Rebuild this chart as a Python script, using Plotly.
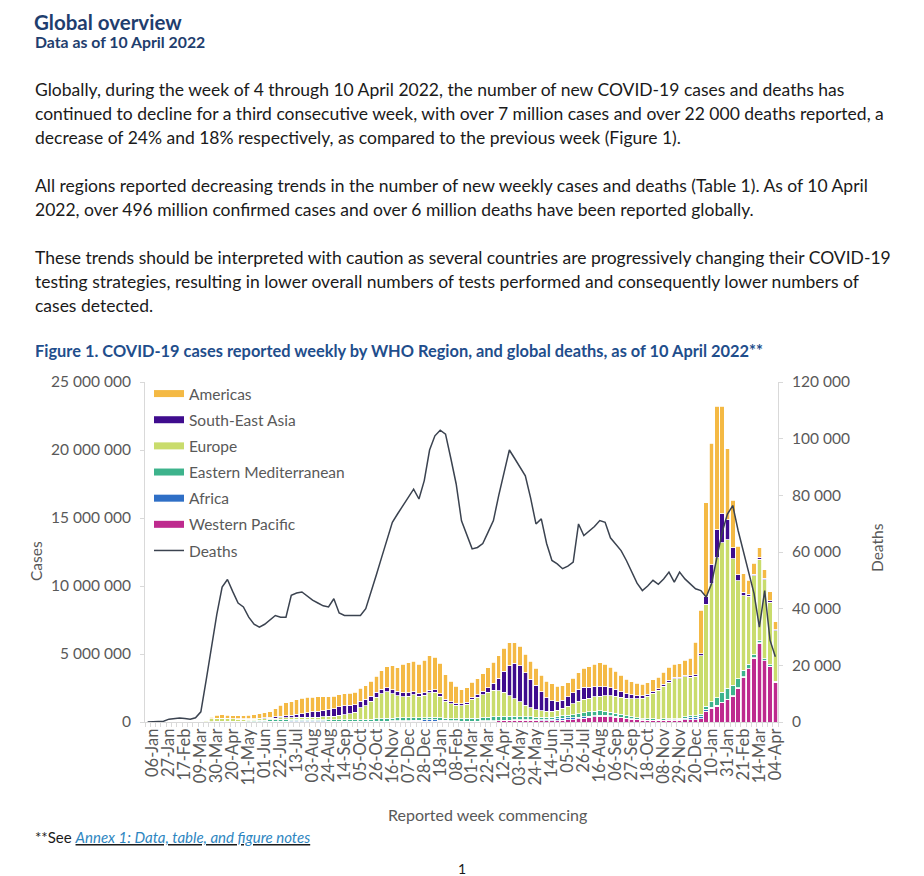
import plotly.graph_objects as go

# ---------------- DATA (weekly cases, thousands; first week = 30-Dec-2019) ----------------
TICK_LABELS = ["06-Jan", "27-Jan", "17-Feb", "09-Mar", "30-Mar", "20-Apr", "11-May", "01-Jun",
               "22-Jun", "13-Jul", "03-Aug", "24-Aug", "14-Sep", "05-Oct", "26-Oct", "16-Nov",
               "07-Dec", "28-Dec", "18-Jan", "08-Feb", "01-Mar", "22-Mar", "12-Apr", "03-May",
               "24-May", "14-Jun", "05-Jul", "26-Jul", "16-Aug", "06-Sep", "27-Sep", "18-Oct",
               "08-Nov", "29-Nov", "20-Dec", "10-Jan", "31-Jan", "21-Feb", "14-Mar", "04-Apr"]

western_pacific = [
    0,
    0, 0, 1.5, 14, 25, 30, 6, 3, 2.5, 3,
    5, 7, 9, 10, 8, 5, 3, 3, 3, 4,
    4, 5, 6, 7, 9, 11, 13, 17, 20, 25,
    28, 30, 28, 25, 22, 22, 22, 20, 18, 18,
    20, 22, 23, 25, 30, 40, 45, 48, 50, 55,
    55, 55, 65, 68, 60, 50, 45, 40, 35, 38,
    40, 42, 48, 55, 65, 80, 90, 110, 120, 125,
    135, 140, 130, 110, 100, 100, 110, 130, 150, 180,
    240, 290, 340, 380, 410, 420, 400, 360, 310, 260,
    210, 170, 130, 120, 120, 120, 130, 140, 140, 140,
    150, 150, 160, 250, 800, 1000, 1150, 1400, 1650, 1900,
    2500, 3300, 3900, 4700, 5800, 4500, 4100, 2900]

africa = [
    0,
    0, 0, 0, 0, 0, 0, 0, 0, 0.1, 0.5,
    1, 2.5, 4, 5, 6, 7, 9, 11, 14, 18,
    22, 26, 32, 40, 50, 62, 72, 80, 85, 80,
    70, 60, 50, 40, 35, 30, 26, 25, 25, 25,
    26, 28, 30, 32, 35, 38, 42, 48, 60, 75,
    90, 100, 110, 105, 85, 65, 50, 40, 35, 32,
    30, 30, 30, 30, 30, 30, 30, 30, 28, 28,
    30, 35, 40, 50, 65, 85, 115, 140, 150, 135,
    115, 100, 90, 85, 80, 75, 65, 50, 40, 30,
    25, 20, 18, 16, 15, 14, 14, 15, 20, 60,
    140, 200, 200, 170, 140, 100, 75, 55, 40, 32,
    25, 20, 17, 15, 13, 12, 10, 9]

eastern_mediterranean = [
    0,
    0, 0, 0, 0, 0, 0, 0.1, 0.5, 3, 8,
    15, 20, 25, 30, 35, 40, 45, 55, 65, 80,
    95, 110, 125, 130, 130, 125, 120, 115, 105, 95,
    90, 90, 95, 100, 105, 110, 115, 120, 130, 140,
    150, 160, 170, 185, 200, 210, 210, 200, 185, 170,
    160, 160, 165, 160, 150, 145, 150, 160, 175, 190,
    200, 210, 230, 250, 275, 300, 310, 300, 280, 250,
    215, 195, 190, 190, 180, 170, 170, 180, 200, 230,
    270, 300, 320, 330, 320, 300, 270, 240, 210, 170,
    140, 120, 105, 95, 90, 85, 85, 85, 85, 85,
    90, 95, 105, 140, 230, 380, 560, 720, 800, 780,
    650, 470, 320, 230, 170, 130, 110, 90]

europe = [
    0,
    0, 0, 0, 0, 0.1, 0.1, 0.2, 1.5, 12, 45,
    120, 200, 250, 240, 220, 190, 160, 130, 115, 110,
    105, 100, 105, 115, 120, 120, 125, 130, 140, 150,
    160, 180, 210, 240, 270, 320, 380, 450, 550, 850,
    1000, 1300, 1600, 1850, 1950, 1800, 1650, 1550, 1600, 1700,
    1600, 1650, 1800, 1850, 1600, 1250, 1100, 1000, 950, 1050,
    1400, 1550, 1700, 1850, 1950, 1900, 1750, 1500, 1300, 1100,
    850, 680, 550, 480, 450, 450, 480, 560, 650, 780,
    900, 1000, 1000, 1050, 1100, 1150, 1200, 1250, 1250, 1300,
    1350, 1400, 1500, 1650, 1900, 2100, 2400, 2700, 2950, 2900,
    2950, 2850, 2900, 4300, 7500, 8700, 10300, 11000, 10900, 9300,
    7200, 5500, 5000, 5800, 6000, 5800, 4600, 3700]

south_east_asia = [
    0,
    0, 0, 0, 0, 0, 0, 0, 0, 0.1, 0.2,
    0.5, 1, 3, 6, 8, 11, 14, 22, 30, 40,
    50, 65, 80, 95, 115, 140, 170, 210, 260, 320,
    390, 430, 460, 510, 560, 630, 650, 610, 560, 510,
    460, 400, 350, 320, 300, 290, 300, 290, 260, 230,
    200, 190, 190, 180, 170, 160, 150, 140, 145, 150,
    160, 190, 250, 350, 530, 900, 1550, 2200, 2600, 2650,
    2400, 2100, 1800, 1400, 1000, 750, 600, 600, 720, 830,
    900, 870, 820, 760, 700, 650, 600, 520, 420, 330,
    270, 230, 190, 170, 150, 140, 130, 120, 110, 110,
    105, 100, 100, 150, 550, 1400, 2050, 2150, 1500, 800,
    450, 250, 170, 130, 120, 110, 90, 70]

americas = [
    0,
    0, 0, 0, 0, 0, 0, 0, 0, 0.3, 3,
    30, 110, 220, 230, 220, 210, 220, 230, 260, 290,
    330, 360, 420, 600, 800, 950, 1000, 1080, 1150, 1150,
    1100, 1080, 1000, 950, 900, 880, 880, 900, 900, 950,
    1000, 1100, 1200, 1350, 1550, 1750, 1750, 2100, 2200, 2250,
    2150, 2400, 2550, 2400, 2250, 1800, 1500, 1250, 1050, 1050,
    1100, 1150, 1300, 1450, 1550, 1650, 1700, 1700, 1500, 1400,
    1350, 1300, 1250, 1200, 1200, 1250, 1150, 1050, 1000, 1050,
    1200, 1400, 1500, 1650, 1750, 1650, 1500, 1300, 1200, 1050,
    950, 900, 850, 850, 850, 850, 900, 950, 950, 1000,
    1100, 1300, 2400, 3200, 6900, 8900, 9100, 7900, 5200, 3500,
    2100, 1350, 1000, 800, 700, 650, 650, 600]

# weekly global deaths, thousands
deaths = [
    0,
    0.1, 0.2, 0.3, 1.0, 1.3, 1.4, 1.2, 1.0, 1.5, 3.6,
    14.8, 27, 38, 47.6, 50.3, 46, 42, 40.6, 37, 34.5,
    33.5, 34.5, 36, 37.6, 37, 37, 44.7, 45.5, 45.9, 44.5,
    43, 42, 41, 40.6, 43.5, 38.5, 37.6, 37.6, 37.6, 37.6,
    40, 46.4, 52, 58.2, 64, 70.5, 73.5, 76.4, 79, 82.2,
    78.7, 85.2, 96, 101, 103, 101.6, 93, 84, 71, 66,
    61.1, 61.6, 63, 67, 71.1, 80, 88, 96, 93, 89.8,
    86.9, 79, 69.9, 71.7, 63, 57, 55.8, 54.1, 55, 56.4,
    69.9, 65.8, 67.5, 69, 71.1, 70.5, 65, 62.9, 60.5, 57,
    53, 49, 46.4, 48, 50, 48.6, 50.5, 52.9, 49.4, 52.9,
    50.5, 48.8, 47, 46.4, 44.1, 48.8, 58, 67, 73.4, 76.4,
    67.6, 60, 52, 45.3, 33.5, 46.4, 28.9, 23]

CASE_TICKS = ["0", "5 000 000", "10 000 000", "15 000 000", "20 000 000", "25 000 000"]
DEATH_TICKS = ["0", "20 000", "40 000", "60 000", "80 000", "100 000", "120 000"]

# ---------------- STYLE ----------------
W, H = 924, 876
OFF = 8  # page margin of the html body
FONT = "Lato"
GRAY = "#595959"
AXIS = "#D9D9D9"
series = [
    ("Western Pacific", western_pacific, "#BE2A8E"),
    ("Africa", africa, "#2F6FC6"),
    ("Eastern Mediterranean", eastern_mediterranean, "#3DB38C"),
    ("Europe", europe, "#C9DC6C"),
    ("South-East Asia", south_east_asia, "#3F0C8E"),
    ("Americas", americas, "#F4B944"),
]
DEATH_COLOR = "#3B4350"


def px(x):
    return (x - OFF) / W


def py(y):
    return 1 - (y - OFF) / H


x = list(range(len(americas)))
fig = go.Figure()

for name, vals, col in series:
    fig.add_trace(go.Bar(x=x, y=[v * 1000 for v in vals], name=name,
                         marker=dict(color=col, line=dict(color="white", width=0.8)),
                         showlegend=False, yaxis="y"))

fig.add_trace(go.Scatter(x=x, y=[d * 1000 for d in deaths], mode="lines", name="Deaths",
                         line=dict(color=DEATH_COLOR, width=1.5), yaxis="y2", showlegend=False))

# legend entries (order as in the reference)
for name, vals, col in reversed(series):
    fig.add_trace(go.Scatter(x=[None], y=[None], mode="lines", name=name, line=dict(color=col, width=7),
                             legendgroup=name, showlegend=True))
fig.add_trace(go.Scatter(x=[None], y=[None], mode="lines", name="Deaths", line=dict(color=DEATH_COLOR, width=1.5),
                         legendgroup="Deaths", showlegend=True))

fig.update_layout(
    width=W, height=H, margin=dict(l=0, r=0, t=0, b=0),
    paper_bgcolor="white", plot_bgcolor="white", template="none",
    barmode="stack", bargap=0.16,
    font=dict(family=FONT, color=GRAY),
    legend=dict(x=px(149), y=py(377), xanchor="left", yanchor="top", bgcolor="rgba(0,0,0,0)",
                font=dict(family=FONT, size=15.5, color=GRAY), tracegroupgap=3, itemwidth=30,
                traceorder="grouped"),
    xaxis=dict(domain=[px(145), px(778)], range=[-0.5, len(x) - 0.5], tickmode="array",
               tickvals=x[1::3], ticktext=TICK_LABELS, tickangle=-90, ticks="",
               showline=True, linecolor=AXIS, linewidth=1, showgrid=False, zeroline=False,
               tickfont=dict(family=FONT, size=16.5, color=GRAY), automargin=False, ticklabelstandoff=-1,
               minor=dict(ticks="outside", ticklen=4, tickcolor=AXIS, tickmode="linear", tick0=-0.5, dtick=1,
                          showgrid=False),
               anchor="y", fixedrange=True),
    yaxis=dict(domain=[1 - (722 - OFF) / H, 1 - (382 - OFF) / H], range=[0, 25e6], tickmode="array",
               tickvals=[0, 5e6, 10e6, 15e6, 20e6, 25e6], ticktext=CASE_TICKS,
               ticks="outside", ticklen=4, tickcolor=AXIS, showline=True, linecolor=AXIS, linewidth=1,
               showgrid=False, zeroline=False, tickfont=dict(family=FONT, size=15.5, color=GRAY),
               ticklabelstandoff=6, automargin=False, anchor="x"),
    yaxis2=dict(overlaying="y", side="right", range=[0, 120000], tickmode="array",
                tickvals=[0, 20000, 40000, 60000, 80000, 100000, 120000], ticktext=DEATH_TICKS,
                ticks="outside", ticklen=4, tickcolor=AXIS, showline=True, linecolor=AXIS, linewidth=1,
                showgrid=False, zeroline=False, tickfont=dict(family=FONT, size=15.5, color=GRAY),
                ticklabelstandoff=6, automargin=False, anchor="x"),
)

NAVY = "#1F3E6E"
BLACK = "#1A1A1A"
ann = []


def text(x0, y0, s, size, color, xanchor="left", angle=0, yanchor="middle"):
    ann.append(dict(x=px(x0), y=py(y0), xref="paper", yref="paper", text=s, showarrow=False,
                    xanchor=xanchor, yanchor=yanchor, textangle=angle,
                    font=dict(family=FONT, size=size, color=color)))


text(32, 8, "<b>Global overview</b>", 20.5, NAVY, yanchor="top")
text(33, 41, "<b>Data as of 10 April 2022</b>", 15.8, NAVY)

para = [
    (89, "Globally, during the week of 4 through 10 April 2022, the number of new COVID-19 cases and deaths has"),
    (113, "continued to decline for a third consecutive week, with over 7 million cases and over 22 000 deaths reported, a"),
    (137, "decrease of 24% and 18% respectively, as compared to the previous week (Figure 1)."),
    (186, "All regions reported decreasing trends in the number of new weekly cases and deaths (Table 1). As of 10 April"),
    (210, "2022, over 496 million confirmed cases and over 6 million deaths have been reported globally."),
    (257, "These trends should be interpreted with caution as several countries are progressively changing their COVID-19"),
    (281, "testing strategies, resulting in lower overall numbers of tests performed and consequently lower numbers of"),
    (305, "cases detected."),
]
for yy, s in para:
    text(33, yy, s, 17.5, BLACK)

text(33, 350, "<b>Figure 1. COVID-19 cases reported weekly by WHO Region, and global deaths, as of 10 April 2022**</b>",
     16.4, "#1F4E8C")

text(36, 561, "Cases", 15.5, GRAY, xanchor="center", angle=-90)
text(877, 548, "Deaths", 15.5, GRAY, xanchor="center", angle=-90)
text(488, 814, "Reported week commencing", 16, GRAY, xanchor="center")
text(33, 837, "**See <i><u><span style='color:#2E86C1'>Annex 1: Data, table, and figure notes</span></u></i>", 15, BLACK)
text(462, 868, "1", 14, BLACK, xanchor="center")

fig.update_layout(annotations=ann)
fig.write_html("out.html")
